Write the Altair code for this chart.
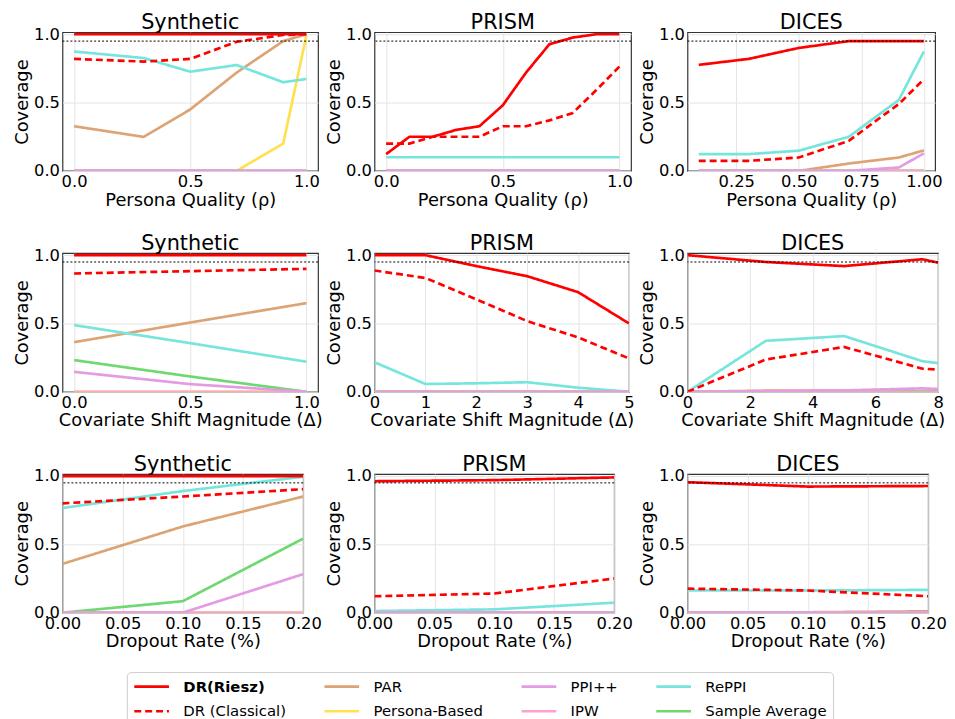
import altair as alt
import pandas as pd

# ---------------- data ----------------
SERIES_DRAW = ["PAR", "Persona-Based", "RePPI", "Sample Average", "IPW", "PPI++",
               "DR (Classical)", "DR(Riesz)"]
LEGEND_ORDER = ["DR(Riesz)", "DR (Classical)", "PAR", "Persona-Based",
                "PPI++", "IPW", "RePPI", "Sample Average"]
COLORS = ["#ff0000", "#ff0000", "#dca474", "#ffe04d",
          "#e39ce3", "#ff9fcf", "#76e6dc", "#70d870"]
DASHES = [[1, 0], [7, 4], [1, 0], [1, 0], [1, 0], [1, 0], [1, 0], [1, 0]]
WIDTHS = [2.7, 2.7, 2.2, 2.2, 2.2, 2.2, 2.2, 2.2]

# Row 1: Persona Quality
syn_rho_x = [0.0, 0.3, 0.5, 0.7, 0.9, 1.0]
syn_rho = {
    "DR(Riesz)": [1.0, 1.0, 1.0, 1.0, 1.0, 1.0],
    "DR (Classical)": [0.82, 0.80, 0.82, 0.945, 0.995, 1.0],
    "PAR": [0.327, 0.249, 0.45, 0.72, 0.95, 1.0],
    "Persona-Based": [0.0, 0.0, 0.0, 0.0, 0.2, 0.99],
    "PPI++": [0, 0, 0, 0, 0, 0],
    "IPW": [0, 0, 0, 0, 0, 0],
    "RePPI": [0.874, 0.826, 0.726, 0.775, 0.649, 0.673],
    "Sample Average": [0, 0, 0, 0, 0, 0],
}
prism_rho_x = [0.0, 0.1, 0.2, 0.3, 0.4, 0.5, 0.6, 0.7, 0.8, 0.9, 1.0]
prism_rho = {
    "DR(Riesz)": [0.123, 0.25, 0.25, 0.30, 0.327, 0.48, 0.72, 0.927, 0.976, 1.0, 1.0],
    "DR (Classical)": [0.20, 0.20, 0.25, 0.25, 0.25, 0.327, 0.327, 0.37, 0.424, 0.59, 0.763],
    "PAR": [0] * 11,
    "Persona-Based": [0] * 11,
    "PPI++": [0] * 11,
    "IPW": [0] * 11,
    "RePPI": [0.1] * 11,
    "Sample Average": [0] * 11,
}
dices_rho_x = [0.1, 0.3, 0.5, 0.7, 0.9, 1.0]
dices_rho = {
    "DR(Riesz)": [0.776, 0.82, 0.90, 0.95, 0.95, 0.95],
    "DR (Classical)": [0.074, 0.074, 0.098, 0.22, 0.49, 0.67],
    "PAR": [0, 0, 0, 0.054, 0.098, 0.15],
    "Persona-Based": [0, 0, 0, 0, 0, 0],
    "PPI++": [0, 0, 0, 0, 0.025, 0.128],
    "IPW": [0, 0, 0, 0, 0, 0],
    "RePPI": [0.123, 0.123, 0.148, 0.25, 0.52, 0.874],
    "Sample Average": [0, 0, 0, 0, 0, 0],
}

# Row 2: Covariate shift
syn_shift_x = [0.0, 0.5, 1.0]
syn_shift = {
    "DR(Riesz)": [1.0, 1.0, 1.0],
    "DR (Classical)": [0.866, 0.883, 0.90],
    "PAR": [0.363, 0.507, 0.649],
    "Persona-Based": [0, 0, 0],
    "PPI++": [0.146, 0.056, 0.0],
    "IPW": [0, 0, 0],
    "RePPI": [0.488, 0.356, 0.22],
    "Sample Average": [0.232, 0.112, 0.0],
}
prism_shift_x = [0, 1, 2, 3, 4, 5]
prism_shift = {
    "DR(Riesz)": [1.0, 1.0, 0.92, 0.846, 0.729, 0.5],
    "DR (Classical)": [0.888, 0.833, 0.677, 0.517, 0.398, 0.244],
    "PAR": [0] * 6,
    "Persona-Based": [0] * 6,
    "PPI++": [0] * 6,
    "IPW": [0] * 6,
    "RePPI": [0.216, 0.057, 0.062, 0.07, 0.03, 0.0],
    "Sample Average": [0] * 6,
}
dices_shift_x = [0, 2.5, 5, 7.5, 8]
dices_shift = {
    "DR(Riesz)": [1.0, 0.95, 0.92, 0.97, 0.945],
    "DR (Classical)": [0.0, 0.236, 0.328, 0.169, 0.162],
    "PAR": [0, 0.008, 0.008, 0.005, 0.003],
    "Persona-Based": [0] * 5,
    "PPI++": [0, 0.005, 0.01, 0.025, 0.02],
    "IPW": [0] * 5,
    "RePPI": [0.0, 0.373, 0.408, 0.224, 0.21],
    "Sample Average": [0, 0, 0.003, 0.006, 0.005],
}

# Row 3: Dropout rate
syn_drop_x = [0.0, 0.1, 0.2]
syn_drop = {
    "DR(Riesz)": [1.0, 1.0, 1.0],
    "DR (Classical)": [0.80, 0.85, 0.904],
    "PAR": [0.357, 0.631, 0.85],
    "Persona-Based": [0, 0, 0],
    "PPI++": [0.0, 0.0, 0.282],
    "IPW": [0, 0, 0],
    "RePPI": [0.766, 0.89, 0.995],
    "Sample Average": [0.0, 0.084, 0.542],
}
prism_drop_x = [0.0, 0.1, 0.2]
prism_drop = {
    "DR(Riesz)": [0.962, 0.97, 0.99],
    "DR (Classical)": [0.12, 0.14, 0.25],
    "PAR": [0, 0, 0],
    "Persona-Based": [0, 0, 0],
    "PPI++": [0, 0, 0],
    "IPW": [0, 0, 0],
    "RePPI": [0.012, 0.024, 0.073],
    "Sample Average": [0, 0, 0],
}
dices_drop_x = [0.0, 0.1, 0.2]
dices_drop = {
    "DR(Riesz)": [0.955, 0.923, 0.927],
    "DR (Classical)": [0.176, 0.162, 0.12],
    "PAR": [0, 0.003, 0.01],
    "Persona-Based": [0, 0, 0],
    "PPI++": [0, 0, 0],
    "IPW": [0, 0, 0],
    "RePPI": [0.162, 0.162, 0.167],
    "Sample Average": [0, 0, 0],
}

FONT = "DejaVu Sans"
TARGET = 0.95


def panel(title, xs, series, xdomain, xticks, xfmt, xtitle, w, h=140):
    rows = []
    for s in SERIES_DRAW:
        for x, v in zip(xs, series[s]):
            rows.append({"x": x, "value": v, "series": s})
    df = pd.DataFrame(rows)
    lines = alt.Chart(df).mark_line(clip=True).encode(
        x=alt.X("x:Q",
                scale=alt.Scale(domain=xdomain, nice=False, zero=False),
                axis=alt.Axis(values=xticks, format=xfmt, title=xtitle)),
        y=alt.Y("value:Q",
                scale=alt.Scale(domain=[0, 1.015], nice=False),
                axis=alt.Axis(values=[0, 0.5, 1.0], format=".1f", title="Coverage")),
        color=alt.Color("series:N",
                        scale=alt.Scale(domain=LEGEND_ORDER, range=COLORS),
                        sort=LEGEND_ORDER,
                        legend=alt.Legend(
                            title=None, orient="none", legendX=65, legendY=646,
                            columns=4, symbolType="M-1,0H4", symbolSize=196,
                            symbolStrokeWidth=2.2, labelFontSize=15,
                            labelFont=FONT, labelColor="black",
                            labelFontWeight={"expr": "datum.label == 'DR(Riesz)' ? 'bold' : 'normal'"},
                            strokeColor="#cccccc", cornerRadius=4, padding=6,
                            columnPadding=33, rowPadding=8, labelOffset=34,
                            fillColor="white")),
        strokeDash=alt.StrokeDash("series:N",
                                  scale=alt.Scale(domain=LEGEND_ORDER, range=DASHES),
                                  sort=LEGEND_ORDER),
        strokeWidth=alt.StrokeWidth("series:N",
                                    scale=alt.Scale(domain=LEGEND_ORDER, range=WIDTHS),
                                    legend=None),
    )
    ref = alt.Chart(pd.DataFrame({"k": [0]})).mark_rule(
        color="black", strokeDash=[2, 2], strokeWidth=1
    ).encode(y=alt.datum(TARGET))
    return alt.layer(lines, ref).properties(
        title=alt.Title(title, frame="group"), width=w, height=h)


rho_t = "Persona Quality (\u03c1)"
shift_t = "Covariate Shift Magnitude (\u0394)"
drop_t = "Dropout Rate (%)"
fine = [0.0, 0.05, 0.1, 0.15, 0.2]

panels = [
    panel("Synthetic", syn_rho_x, syn_rho, [-0.05, 1.05], [0, 0.5, 1.0], ".1f", rho_t, 258),
    panel("PRISM", prism_rho_x, prism_rho, [-0.05, 1.05], [0, 0.5, 1.0], ".1f", rho_t, 259),
    panel("DICES", dices_rho_x, dices_rho, [0.055, 1.045], [0.25, 0.5, 0.75, 1.0], ".2f", rho_t, 250),
    panel("Synthetic", syn_shift_x, syn_shift, [-0.05, 1.05], [0, 0.5, 1.0], ".1f", shift_t, 258),
    panel("PRISM", prism_shift_x, prism_shift, [0, 5], [0, 1, 2, 3, 4, 5], "d", shift_t, 257),
    panel("DICES", dices_shift_x, dices_shift, [0, 8], [0, 2, 4, 6, 8], "d", shift_t, 253),
    panel("Synthetic", syn_drop_x, syn_drop, [0, 0.2], fine, ".2f", drop_t, 243),
    panel("PRISM", prism_drop_x, prism_drop, [0, 0.2], fine, ".2f", drop_t, 242),
    panel("DICES", dices_drop_x, dices_drop, [0, 0.2], fine, ".2f", drop_t, 243),
]

chart = alt.concat(*panels, columns=3, spacing={"row": 83, "column": 57},
                   bounds="flush").properties(
    padding={"left": 5, "top": 0, "right": 0, "bottom": 0}
).configure(
    font=FONT
).configure_view(
    stroke="#333333", strokeWidth=1.2
).configure_axis(
    labelFont=FONT, titleFont=FONT, labelFontSize=16.5, titleFontSize=18,
    labelColor="black", titleColor="black", titleFontWeight="normal",
    grid=True, gridColor="#e4e4e4", gridWidth=1, domain=False, ticks=False,
    labelPadding=3, labelFlush=False, labelOverlap=False
).configure_axisY(
    titlePadding=2
).configure_axisX(
    titlePadding=1
).configure_title(
    font=FONT, fontSize=21, fontWeight="normal", color="black",
    offset=-7, baseline="alphabetic", anchor="middle"
)

chart.save("out.html", embed_options={"renderer": "svg", "actions": False})
